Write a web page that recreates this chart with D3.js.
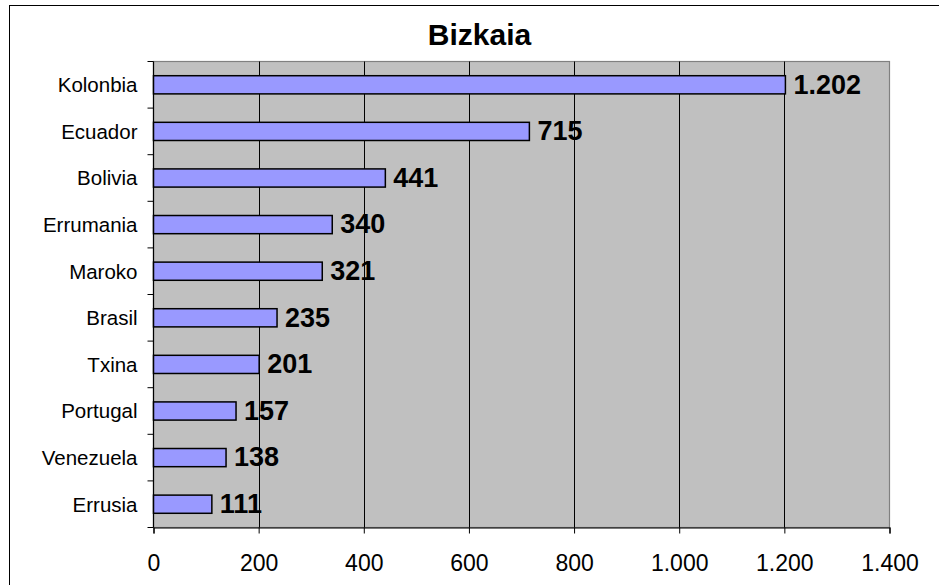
<!DOCTYPE html>
<html>
<head>
<meta charset="utf-8">
<script src="https://cdn.jsdelivr.net/npm/d3@7"></script>
<style>
  html, body { margin: 0; padding: 0; background: #fff; }
  svg { display: block; font-family: Arial, "Liberation Sans", sans-serif; }
</style>
</head>
<body>
<svg id="chart" width="939" height="585"></svg>
<script>
const title = "Bizkaia";
const categories = ["Kolonbia", "Ecuador", "Bolivia", "Errumania", "Maroko", "Brasil", "Txina", "Portugal", "Venezuela", "Errusia"];
const values = [1202, 715, 441, 340, 321, 235, 201, 157, 138, 111];
const xTicks = [0, 200, 400, 600, 800, 1000, 1200, 1400];

const svg = d3.select("#chart");
const W = 939, H = 585;
const plot = { left: 153.5, right: 889.5, top: 61.5, bottom: 527.5 };

const loc = d3.formatLocale({ decimal: ",", thousands: ".", grouping: [3], currency: ["", ""] });
const fmt = loc.format(",d");

const x = d3.scaleLinear().domain([0, 1400]).range([plot.left, plot.right]);
const y = d3.scaleBand().domain(categories).range([plot.top, plot.bottom])
  .paddingInner(0.61).paddingOuter(0.305);

// background + outer frame
svg.append("rect").attr("x", 0).attr("y", 0).attr("width", W).attr("height", H).attr("fill", "#fff");
svg.append("rect").attr("x", 9.5).attr("y", 5.5).attr("width", W + 20).attr("height", H + 20)
  .attr("fill", "none").attr("stroke", "#000").attr("stroke-width", 1);

// plot area
svg.append("rect").attr("x", plot.left).attr("y", plot.top)
  .attr("width", plot.right - plot.left).attr("height", plot.bottom - plot.top)
  .attr("fill", "#C0C0C0").attr("stroke", "#808080").attr("stroke-width", 1.2);

// gridlines
svg.append("g").selectAll("line").data(xTicks.filter(d => d > 0 && d < 1400)).join("line")
  .attr("x1", d => Math.round(x(d)) + 0.5).attr("x2", d => Math.round(x(d)) + 0.5)
  .attr("y1", plot.top).attr("y2", plot.bottom)
  .attr("stroke", "#000").attr("stroke-width", 1);

// x axis
const xAxis = d3.axisBottom(x).tickValues(xTicks).tickSize(6).tickPadding(21.5).tickFormat(fmt);
const gx = svg.append("g").attr("transform", `translate(0,${plot.bottom})`).call(xAxis);
gx.select(".domain").attr("stroke", "#000").attr("stroke-width", 1.2);
gx.selectAll(".tick line").attr("stroke", "#000");
gx.selectAll("text").attr("font-size", 23).attr("fill", "#000")
  .attr("font-family", "Arial, 'Liberation Sans', sans-serif");

// y axis: labels centered on bands, ticks at band boundaries
const gy = svg.append("g");
gy.append("line").attr("x1", plot.left).attr("x2", plot.left)
  .attr("y1", plot.top).attr("y2", plot.bottom).attr("stroke", "#000").attr("stroke-width", 1.2);
const step = y.step();
const bounds = d3.range(categories.length + 1).map(i => plot.top + i * step);
gy.selectAll("line.tk").data(bounds).join("line").attr("class", "tk")
  .attr("x1", plot.left - 6).attr("x2", plot.left)
  .attr("y1", d => d).attr("y2", d => d).attr("stroke", "#000");
gy.selectAll("text").data(categories).join("text")
  .attr("x", plot.left - 16)
  .attr("y", d => y(d) + y.bandwidth() / 2)
  .attr("dy", "0.36em")
  .attr("text-anchor", "end")
  .attr("font-size", 20.5).attr("fill", "#000")
  .text(d => d);

// bars
svg.append("g").selectAll("rect").data(values).join("rect")
  .attr("x", x(0))
  .attr("y", (d, i) => y(categories[i]))
  .attr("width", d => x(d) - x(0))
  .attr("height", y.bandwidth())
  .attr("fill", "#9999FF").attr("stroke", "#000").attr("stroke-width", 1.5);

// value labels
svg.append("g").selectAll("text").data(values).join("text")
  .attr("x", d => x(d) + 8)
  .attr("y", (d, i) => y(categories[i]) + y.bandwidth() / 2 - 1)
  .attr("dy", "0.36em")
  .attr("font-size", 27).attr("font-weight", "bold").attr("fill", "#000")
  .text(d => fmt(d));

// title
svg.append("text").attr("x", 479.5).attr("y", 45)
  .attr("text-anchor", "middle").attr("font-size", 30).attr("font-weight", "bold")
  .attr("fill", "#000").text(title);
</script>
</body>
</html>
